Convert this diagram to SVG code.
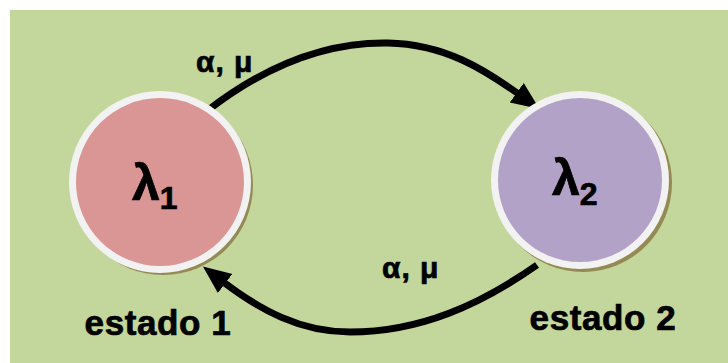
<svg xmlns="http://www.w3.org/2000/svg" width="728" height="363" viewBox="0 0 728 363">
<defs>
<style>
.bg{fill:#C3D69B}
.shadow{fill:#948A54}
.ring{fill:#F2F2F2}
.t{font-family:"Liberation Sans",Arial,sans-serif;font-weight:bold;fill:#000;stroke:#000;stroke-width:0.7px}
.lbl{font-size:30px;letter-spacing:1px}
.edge{fill:none;stroke:#000;stroke-width:7}
</style>
<marker id="ah" markerUnits="userSpaceOnUse" markerWidth="30" markerHeight="30" viewBox="0 0 30 30" refX="4" refY="15" orient="auto">
<path d="M0,3 L28,15 L0,27 z" fill="#000"/>
</marker>
</defs>
<rect class="bg" x="10" y="10" width="718" height="353"/>
<g id="connectors">
<path class="edge" d="M207,111 C270,62 330,42 388,43 C445,44 485,70 520,95" marker-end="url(#ah)"/>
<text class="t lbl" x="196" y="72">α, μ</text>
<path class="edge" d="M537,265 C480,305 420,332 350,332 C300,332 260,310 222,281" marker-end="url(#ah)"/>
<text class="t lbl" x="382" y="278">α, μ</text>
</g>
<g id="state1">
<circle class="shadow" cx="163" cy="185" r="90"/>
<circle class="ring" cx="160" cy="182" r="91"/>
<circle cx="160" cy="182" r="84" fill="#D99694"/>
<text class="t" x="132" y="200" font-size="50" stroke-width="1.2">λ<tspan font-size="32" dy="9">1</tspan></text>
<text class="t" x="158" y="335" font-size="35" letter-spacing="0.6" text-anchor="middle">estado 1</text>
</g>
<g id="state2">
<circle class="shadow" cx="583" cy="183" r="89"/>
<circle class="ring" cx="580" cy="180" r="89"/>
<circle cx="580" cy="180" r="82" fill="#B3A2C7"/>
<text class="t" x="552" y="195" font-size="50" stroke-width="1.2">λ<tspan font-size="32" dy="10">2</tspan></text>
<text class="t" x="603" y="330" font-size="35" letter-spacing="0.6" text-anchor="middle">estado 2</text>
</g>
</svg>
